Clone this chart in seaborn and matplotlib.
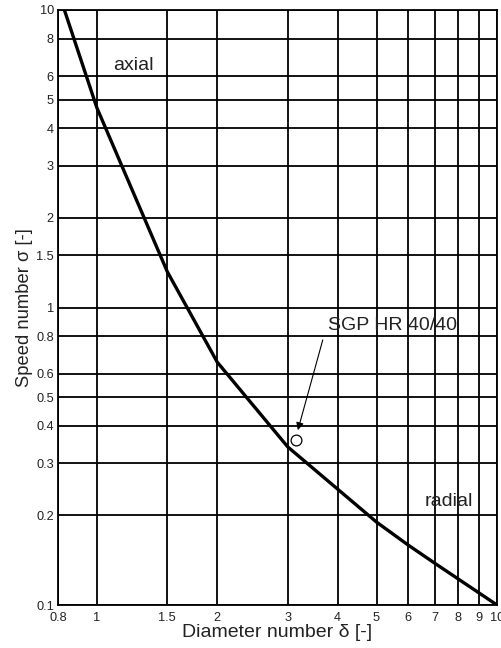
import matplotlib
matplotlib.use("Agg")
import matplotlib.pyplot as plt
import seaborn as sns
import pandas as pd
from matplotlib.ticker import FixedLocator, FixedFormatter, NullLocator

# Cordier curve data
delta = [0.83, 1.0, 1.5, 2.0, 3.0, 4.0, 5.0, 6.0, 7.0, 10.0]
sigma = [10.0, 4.7, 1.32, 0.655, 0.34, 0.245, 0.19, 0.159, 0.138, 0.1]

# Operating point
point_delta = [3.15]
point_sigma = [0.36]
point_label = "SGP HR 40/40"

x_ticks = [0.8, 1, 1.5, 2, 3, 4, 5, 6, 7, 8, 9, 10]
x_tick_labels = ["0.8", "1", "1.5", "2", "3", "4", "5", "6", "7", "8", "9", "10"]
y_ticks = [0.1, 0.2, 0.3, 0.4, 0.5, 0.6, 0.8, 1, 1.5, 2, 3, 4, 5, 6, 8, 10]
y_tick_labels = ["0.1", "0.2", "0.3", "0.4", "0.5", "0.6", "0.8", "1", "1.5", "2",
                 "3", "4", "5", "6", "8", "10"]

sns.set_theme(style="white")
plt.rcParams['font.family'] = ['Liberation Sans', 'DejaVu Sans']

fig = plt.figure(figsize=(5.01, 6.48), dpi=100)
ax = fig.add_axes([58/501, 1 - 605/648, (497-58)/501, (605-10)/648])

df = pd.DataFrame({"delta": delta, "sigma": sigma})
ax.set_xscale("log")
ax.set_yscale("log")
sns.lineplot(data=df, x="delta", y="sigma", ax=ax, color="black", linewidth=2.4,
             sort=False, estimator=None, zorder=5)
pf = pd.DataFrame({"delta": point_delta, "sigma": point_sigma})
sns.scatterplot(data=pf, x="delta", y="sigma", ax=ax, s=60, facecolor="white",
                edgecolor="black", linewidth=0.9, zorder=6)

ax.set_xlim(0.8, 10)
ax.set_ylim(0.1, 10)

ax.xaxis.set_major_locator(FixedLocator(x_ticks))
ax.xaxis.set_major_formatter(FixedFormatter(x_tick_labels))
ax.xaxis.set_minor_locator(NullLocator())
ax.yaxis.set_major_locator(FixedLocator(y_ticks))
ax.yaxis.set_major_formatter(FixedFormatter(y_tick_labels))
ax.yaxis.set_minor_locator(NullLocator())

ax.grid(True, which="major", color="black", linewidth=1.3)
ax.tick_params(axis="both", which="both", length=0, labelsize=9.2,
               labelcolor="#222222")
ax.tick_params(axis="y", pad=3)
ax.tick_params(axis="x", pad=5)
for s in ax.spines.values():
    s.set_color("black")
    s.set_linewidth(1.3)

ax.set_xlabel("Diameter number δ [-]", fontsize=14, color="#222222", labelpad=0)
ax.set_ylabel("Speed number σ [-]", fontsize=13.2, color="#222222", labelpad=2)

ax.text(1.234, 6.53, "axial", fontsize=14, color="#222222", ha="center", va="center")
ax.text(7.57, 0.222, "radial", fontsize=14, color="#222222", ha="center", va="center")

ax.text(3.78, 0.873, point_label, fontsize=14, color="#222222", ha="left", va="center")
ax.annotate("", xy=(3.18, 0.387), xytext=(3.67, 0.778),
            arrowprops=dict(arrowstyle="-|>", color="black", lw=0.8,
                            mutation_scale=11, shrinkA=0, shrinkB=0),
            zorder=7)

fig.savefig("out.png", dpi=100)
